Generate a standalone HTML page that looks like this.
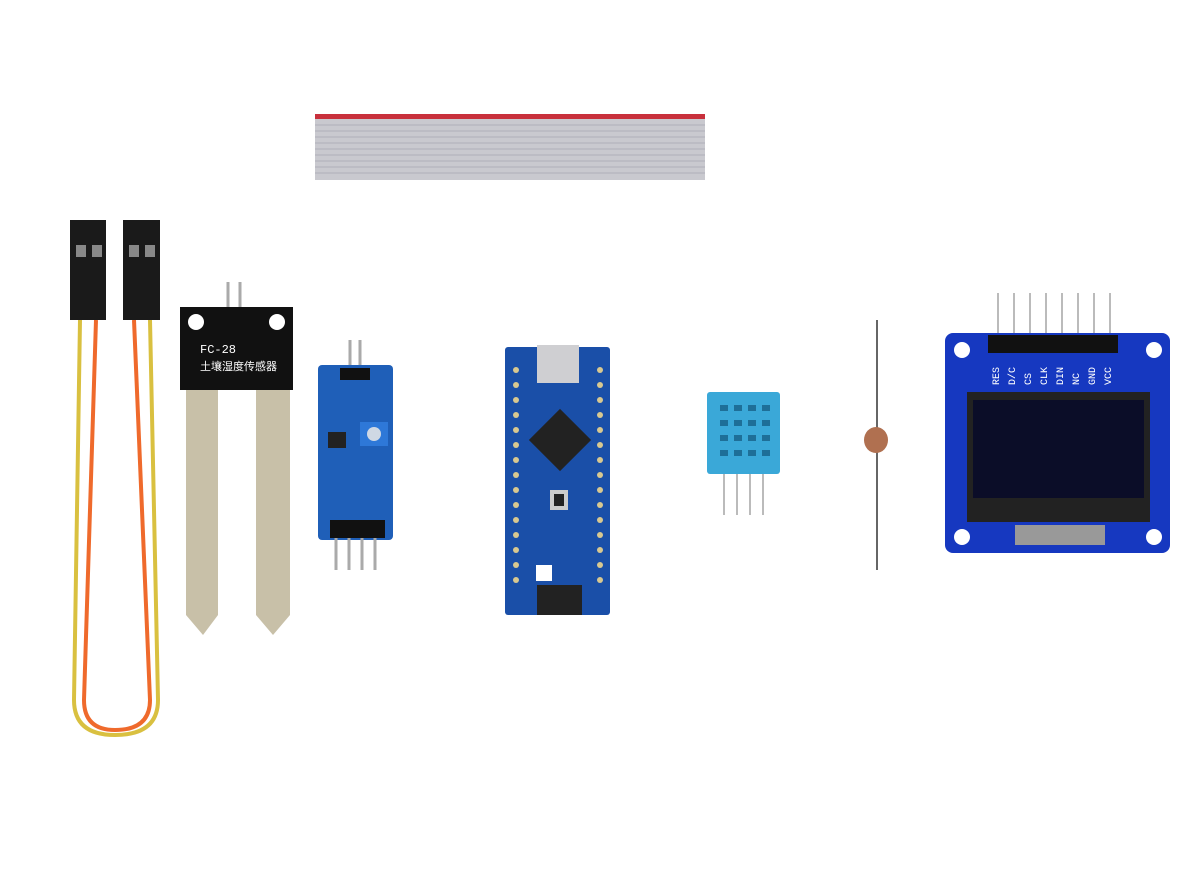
<!DOCTYPE html>
<html><head><meta charset="utf-8"><style>
html,body{margin:0;padding:0;background:#fff;width:1200px;height:869px;overflow:hidden}
svg{display:block}
text{font-family:"Liberation Mono","Noto Sans CJK SC",monospace}
</style></head><body>
<svg width="1200" height="869" viewBox="0 0 1200 869">
<!-- ribbon cable -->
<rect x="315" y="114" width="390" height="66" fill="#c9c9cf"/>
<rect x="315" y="114" width="390" height="5" fill="#c8303c"/>
<g stroke="#b0b0b8" stroke-width="1">
<line x1="315" y1="125" x2="705" y2="125"/><line x1="315" y1="131" x2="705" y2="131"/><line x1="315" y1="137" x2="705" y2="137"/><line x1="315" y1="143" x2="705" y2="143"/><line x1="315" y1="149" x2="705" y2="149"/><line x1="315" y1="155" x2="705" y2="155"/><line x1="315" y1="161" x2="705" y2="161"/><line x1="315" y1="167" x2="705" y2="167"/><line x1="315" y1="173" x2="705" y2="173"/>
</g>
<!-- jumper wires -->
<g fill="none" stroke-width="4">
<path d="M80 320 L74 700 Q74 735 115 735 Q158 735 158 700 L150 320" stroke="#d9c040"/>
<path d="M96 320 L84 700 Q84 730 115 730 Q150 730 150 700 L134 320" stroke="#ef6a2c"/>
</g>
<rect x="70" y="220" width="36" height="100" fill="#1a1a1a"/>
<rect x="123" y="220" width="37" height="100" fill="#1a1a1a"/>
<rect x="76" y="245" width="10" height="12" fill="#888"/><rect x="92" y="245" width="10" height="12" fill="#888"/>
<rect x="129" y="245" width="10" height="12" fill="#888"/><rect x="145" y="245" width="10" height="12" fill="#888"/>
<!-- soil probe -->
<line x1="228" y1="282" x2="228" y2="310" stroke="#aaa" stroke-width="3"/><line x1="240" y1="282" x2="240" y2="310" stroke="#aaa" stroke-width="3"/>
<path d="M186 390 L218 390 L218 615 L203 635 L186 615 Z" fill="#c8c0a8"/>
<path d="M256 390 L290 390 L290 615 L273 635 L256 615 Z" fill="#c8c0a8"/>
<path d="M180 307 L293 307 L293 390 L180 390 Z" fill="#111"/>
<circle cx="196" cy="322" r="8" fill="#fff"/><circle cx="277" cy="322" r="8" fill="#fff"/>
<text x="200" y="353" fill="#fff" font-size="12">FC-28</text>
<text x="200" y="370" fill="#fff" font-size="11">土壤湿度传感器</text>
<!-- sensor module -->
<line x1="350" y1="340" x2="350" y2="368" stroke="#aaa" stroke-width="3"/><line x1="360" y1="340" x2="360" y2="368" stroke="#aaa" stroke-width="3"/>
<rect x="318" y="365" width="75" height="175" rx="4" fill="#1f5fb8"/>
<rect x="340" y="368" width="30" height="12" fill="#111"/>
<rect x="360" y="422" width="28" height="24" fill="#2e78d8"/><circle cx="374" cy="434" r="7" fill="#cfd8e4"/>
<rect x="328" y="432" width="18" height="16" fill="#222"/>
<rect x="330" y="520" width="55" height="18" fill="#111"/>
<g stroke="#aaa" stroke-width="3"><line x1="336" y1="538" x2="336" y2="570"/><line x1="349" y1="538" x2="349" y2="570"/><line x1="362" y1="538" x2="362" y2="570"/><line x1="375" y1="538" x2="375" y2="570"/></g>
<!-- arduino nano -->
<rect x="505" y="347" width="105" height="268" rx="3" fill="#1a4fa8"/>
<rect x="537" y="345" width="42" height="38" fill="#cfcfd2"/>
<g transform="rotate(45 560 440)"><rect x="538" y="418" width="44" height="44" fill="#222"/></g>
<rect x="550" y="490" width="18" height="20" fill="#ccc"/><rect x="554" y="494" width="10" height="12" fill="#222"/>
<rect x="537" y="585" width="45" height="30" fill="#222"/>
<g fill="#d8c890">
<circle cx="516" cy="370" r="3"/><circle cx="516" cy="385" r="3"/><circle cx="516" cy="400" r="3"/><circle cx="516" cy="415" r="3"/><circle cx="516" cy="430" r="3"/><circle cx="516" cy="445" r="3"/><circle cx="516" cy="460" r="3"/><circle cx="516" cy="475" r="3"/><circle cx="516" cy="490" r="3"/><circle cx="516" cy="505" r="3"/><circle cx="516" cy="520" r="3"/><circle cx="516" cy="535" r="3"/><circle cx="516" cy="550" r="3"/><circle cx="516" cy="565" r="3"/><circle cx="516" cy="580" r="3"/>
<circle cx="600" cy="370" r="3"/><circle cx="600" cy="385" r="3"/><circle cx="600" cy="400" r="3"/><circle cx="600" cy="415" r="3"/><circle cx="600" cy="430" r="3"/><circle cx="600" cy="445" r="3"/><circle cx="600" cy="460" r="3"/><circle cx="600" cy="475" r="3"/><circle cx="600" cy="490" r="3"/><circle cx="600" cy="505" r="3"/><circle cx="600" cy="520" r="3"/><circle cx="600" cy="535" r="3"/><circle cx="600" cy="550" r="3"/><circle cx="600" cy="565" r="3"/><circle cx="600" cy="580" r="3"/>
</g>
<rect x="536" y="565" width="16" height="16" fill="#fff"/>
<!-- DHT11 -->
<g stroke="#bbb" stroke-width="2"><line x1="724" y1="472" x2="724" y2="515"/><line x1="737" y1="472" x2="737" y2="515"/><line x1="750" y1="472" x2="750" y2="515"/><line x1="763" y1="472" x2="763" y2="515"/></g>
<rect x="707" y="392" width="73" height="82" rx="3" fill="#3aa8d8"/>
<g fill="#1e6f98">
<rect x="720" y="405" width="8" height="6"/><rect x="734" y="405" width="8" height="6"/><rect x="748" y="405" width="8" height="6"/><rect x="762" y="405" width="8" height="6"/>
<rect x="720" y="420" width="8" height="6"/><rect x="734" y="420" width="8" height="6"/><rect x="748" y="420" width="8" height="6"/><rect x="762" y="420" width="8" height="6"/>
<rect x="720" y="435" width="8" height="6"/><rect x="734" y="435" width="8" height="6"/><rect x="748" y="435" width="8" height="6"/><rect x="762" y="435" width="8" height="6"/>
<rect x="720" y="450" width="8" height="6"/><rect x="734" y="450" width="8" height="6"/><rect x="748" y="450" width="8" height="6"/><rect x="762" y="450" width="8" height="6"/>
</g>
<!-- LDR -->
<line x1="877" y1="320" x2="877" y2="570" stroke="#666" stroke-width="2"/>
<ellipse cx="876" cy="440" rx="12" ry="13" fill="#b07050"/>
<!-- OLED -->
<g stroke="#bbb" stroke-width="2">
<line x1="998" y1="293" x2="998" y2="340"/><line x1="1014" y1="293" x2="1014" y2="340"/><line x1="1030" y1="293" x2="1030" y2="340"/><line x1="1046" y1="293" x2="1046" y2="340"/><line x1="1062" y1="293" x2="1062" y2="340"/><line x1="1078" y1="293" x2="1078" y2="340"/><line x1="1094" y1="293" x2="1094" y2="340"/><line x1="1110" y1="293" x2="1110" y2="340"/>
</g>
<rect x="945" y="333" width="225" height="220" rx="8" fill="#1638c0"/>
<rect x="988" y="335" width="130" height="18" fill="#111"/>
<circle cx="962" cy="350" r="8" fill="#fff"/><circle cx="1154" cy="350" r="8" fill="#fff"/>
<circle cx="962" cy="537" r="8" fill="#fff"/><circle cx="1154" cy="537" r="8" fill="#fff"/>
<rect x="967" y="392" width="183" height="130" fill="#222"/>
<rect x="973" y="400" width="171" height="98" fill="#0b0d28"/>
<rect x="1015" y="525" width="90" height="20" fill="#999"/>
<g fill="#fff" font-size="10">
<text x="999" y="385" transform="rotate(-90 999 385)">RES</text>
<text x="1015" y="385" transform="rotate(-90 1015 385)">D/C</text>
<text x="1031" y="385" transform="rotate(-90 1031 385)">CS</text>
<text x="1047" y="385" transform="rotate(-90 1047 385)">CLK</text>
<text x="1063" y="385" transform="rotate(-90 1063 385)">DIN</text>
<text x="1079" y="385" transform="rotate(-90 1079 385)">NC</text>
<text x="1095" y="385" transform="rotate(-90 1095 385)">GND</text>
<text x="1111" y="385" transform="rotate(-90 1111 385)">VCC</text>
</g>
</svg>
</body></html>
